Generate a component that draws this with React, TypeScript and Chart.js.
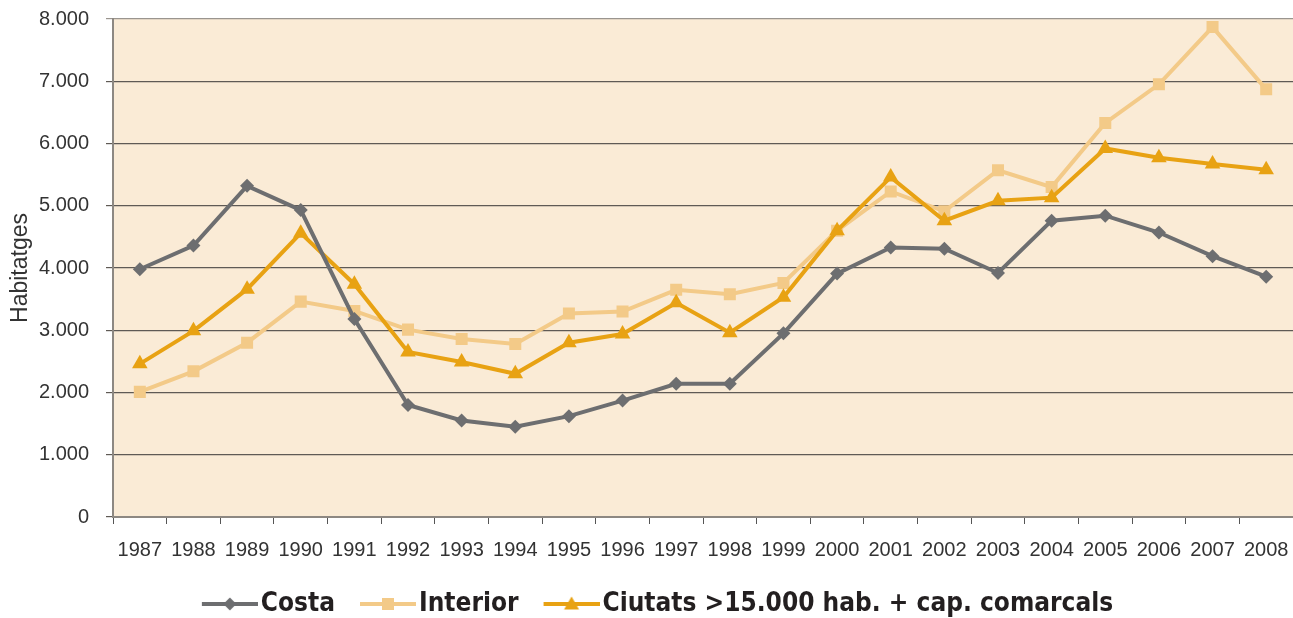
import React, { useEffect, useRef } from "react";
import { Chart, registerables } from "chart.js";

Chart.register(...registerables);

const years = ["1987","1988","1989","1990","1991","1992","1993","1994","1995","1996","1997","1998","1999","2000","2001","2002","2003","2004","2005","2006","2007","2008"];
const costa = [3980,4360,5320,4930,3180,1800,1550,1450,1620,1870,2140,2140,2950,3910,4330,4310,3920,4760,4840,4570,4190,3860];
const interior = [2010,2340,2800,3460,3310,3010,2860,2780,3270,3300,3650,3580,3760,4600,5230,4910,5570,5300,6330,6950,7870,6870];
const ciutats = [2460,2990,3660,4560,3740,2650,2490,2300,2800,2940,3440,2960,3530,4600,5460,4760,5080,5130,5920,5770,5670,5580];

const seriesNames = ["Costa", "Interior", "Ciutats >15.000 hab. + cap. comarcals"];
const yAxisTitle = "Habitatges";

const COL_COSTA = "#6d6e70";
const COL_INTERIOR = "#f3ca88";
const COL_CIUTATS = "#e8a213";

function fmt(v: number): string {
  return String(v).replace(/\B(?=(\d{3})+(?!\d))/g, ".");
}

// legend icon: line of 56px with marker in the middle, placed asymmetrically in the canvas
function legendIcon(color: string, style: string): HTMLCanvasElement {
  const c = document.createElement("canvas");
  const w = 65, h = 20;
  c.width = w; c.height = h;
  const ctx = c.getContext("2d")!;
  ctx.strokeStyle = color;
  ctx.fillStyle = color;
  ctx.lineWidth = 4;
  const x0 = 9, x1 = 65;
  ctx.beginPath();
  ctx.moveTo(x0, h / 2);
  ctx.lineTo(x1, h / 2);
  ctx.stroke();
  const cx = (x0 + x1) / 2, cy = h / 2;
  ctx.beginPath();
  if (style === "rectRot") {
    ctx.moveTo(cx, cy - 6.5); ctx.lineTo(cx + 6.5, cy); ctx.lineTo(cx, cy + 6.5); ctx.lineTo(cx - 6.5, cy);
  } else if (style === "rect") {
    ctx.rect(cx - 6, cy - 6, 12, 12);
  } else {
    ctx.moveTo(cx, cy - 7.5); ctx.lineTo(cx + 7.5, cy + 5.5); ctx.lineTo(cx - 7.5, cy + 5.5);
  }
  ctx.closePath();
  ctx.fill();
  return c;
}

const bgPlugin = {
  id: "plotBg",
  beforeDraw(chart: any) {
    const { ctx, chartArea } = chart;
    ctx.save();
    ctx.fillStyle = "#faebd6";
    ctx.fillRect(chartArea.left, chartArea.top, chartArea.right - chartArea.left, chartArea.bottom - chartArea.top);
    ctx.restore();
  },
};

export default function App() {
  const ref = useRef<HTMLCanvasElement>(null);
  useEffect(() => {
    const icons = [
      legendIcon(COL_COSTA, "rectRot"),
      legendIcon(COL_INTERIOR, "rect"),
      legendIcon(COL_CIUTATS, "triangle"),
    ];
    const chart = new Chart(ref.current!, {
      type: "line",
      data: {
        labels: years,
        datasets: [
          {
            label: seriesNames[0], data: costa, borderColor: COL_COSTA, backgroundColor: COL_COSTA,
            borderWidth: 4, pointStyle: "rectRot", pointRadius: 7, pointBorderWidth: 0, order: 0,
          },
          {
            label: seriesNames[1], data: interior, borderColor: COL_INTERIOR, backgroundColor: COL_INTERIOR,
            borderWidth: 4, pointStyle: "rect", pointRadius: 8.5, pointBorderWidth: 0, order: 2,
          },
          {
            label: seriesNames[2], data: ciutats, borderColor: COL_CIUTATS, backgroundColor: COL_CIUTATS,
            borderWidth: 4, pointStyle: "triangle", pointRadius: 9, pointBorderWidth: 0, order: 1,
          },
        ],
      },
      options: {
        animation: false,
        responsive: true,
        maintainAspectRatio: false,
        layout: { padding: { top: 19, right: 0, left: 0, bottom: -9 } },
        elements: { line: { tension: 0 } },
        plugins: {
          tooltip: { enabled: false },
          legend: {
            position: "bottom",
            labels: {
              usePointStyle: true,
              pointStyleWidth: 45,
              padding: 26,
              color: "#231f20",
              font: { family: "'Liberation Sans Narrow', 'DejaVu Sans Condensed', sans-serif", size: 26, weight: "bold" },
              generateLabels: () =>
                [0, 1, 2].map((i) => ({
                  text: seriesNames[i],
                  pointStyle: icons[i],
                  fillStyle: "transparent",
                  strokeStyle: "transparent",
                  lineWidth: 0,
                  hidden: false,
                  datasetIndex: i,
                  fontColor: "#231f20",
                })),
            },
          },
        },
        scales: {
          x: {
            offset: true,
            grid: { offset: true, drawOnChartArea: false, drawTicks: true, tickLength: 7, color: "#555" },
            border: { color: "#8d8882", width: 2 },
            ticks: { color: "#333", padding: 14, font: { family: "'Liberation Sans', Arial, sans-serif", size: 20 }, maxRotation: 0, autoSkip: false },
            afterFit: (s: any) => { s.height = 48; s.paddingLeft = 0; s.paddingRight = 23; },
          },
          y: {
            min: 0,
            max: 8000,
            grid: {
              color: (c: any) => (c.tick && c.tick.value === 8000 ? "#9a958f" : "#5f5a55"),
              lineWidth: 1.2,
              tickLength: 7,
            },
            border: { color: "#8d8882", width: 2 },
            ticks: { stepSize: 1000, color: "#333", padding: 17, font: { family: "'Liberation Sans', Arial, sans-serif", size: 20 }, callback: (v: any) => fmt(Number(v)) },
            title: { display: true, text: yAxisTitle, color: "#333", padding: { top: 7, bottom: 4 }, font: { family: "'Liberation Sans', Arial, sans-serif", size: 23 } },
            afterFit: (s: any) => { s.width = 113; s.paddingTop = 0; s.paddingBottom = 0; },
          },
        },
      },
      plugins: [bgPlugin],
    });
    return () => chart.destroy();
  }, []);
  return (
    <div style={{ position: "absolute", left: 0, top: 0, width: 1293, height: 618, overflow: "hidden" }}>
      <div style={{ position: "relative", width: 1316, height: 618 }}>
        <canvas ref={ref} />
      </div>
    </div>
  );
}
